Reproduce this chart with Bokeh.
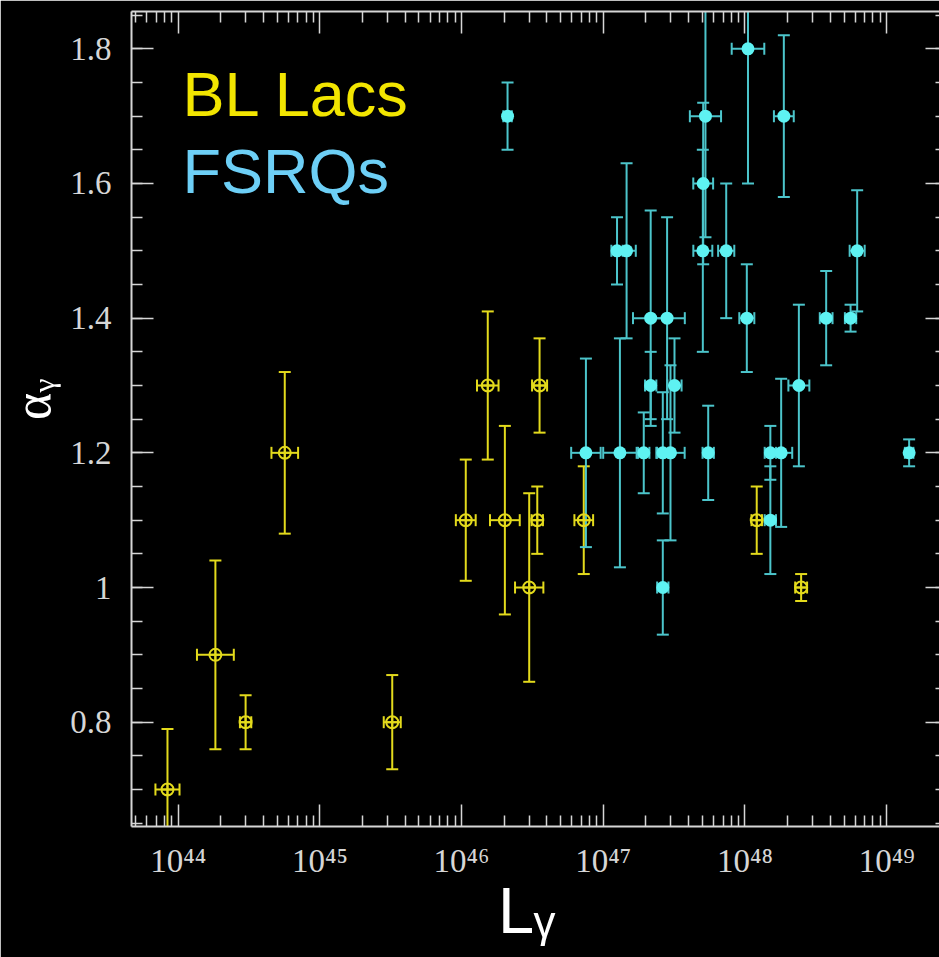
import math
from bokeh.plotting import figure
from bokeh.models import Range1d, LogAxis, LinearAxis, FixedTicker, Label, ColumnDataSource
from bokeh.embed import file_html
from bokeh.resources import INLINE

# ---------------- data ----------------
# BL Lacs: gamma-ray luminosity, spectral index, errors (alpha, dex in L)
bl_L = [8.4e43, 1.83e44, 2.99e44, 5.65e44, 3.24e45, 1.07e46, 1.53e46,
        2.02e46, 3.0e46, 3.42e46, 3.55e46, 7.28e46, 1.21e48, 2.49e48]
bl_alpha = [0.70, 0.90, 0.80, 1.20, 0.80, 1.10, 1.30,
            1.10, 1.00, 1.10, 1.30, 1.10, 1.10, 1.00]
bl_alpha_err = [0.09, 0.14, 0.04, 0.12, 0.07, 0.09, 0.11,
                0.14, 0.14, 0.05, 0.07, 0.08, 0.05, 0.02]
bl_logL_err = [0.085, 0.13, 0.04, 0.094, 0.06, 0.07, 0.076,
               0.105, 0.10, 0.04, 0.053, 0.066, 0.037, 0.042]

# FSRQs
fs_L = [2.11e46, 7.54e46, 1.31e47, 1.93e47, 2.63e47, 2.98e47, 2.63e47,
        1.25e47, 1.46e47, 2.16e47, 2.82e47, 2.16e47, 3.18e47, 5.26e47,
        5.07e47, 5.04e47, 5.50e47, 7.37e47, 1.03e48, 1.05e48, 1.51e48,
        1.51e48, 1.80e48, 1.88e48, 2.40e48, 3.74e48, 5.56e48, 6.19e48, 1.44e49]
fs_alpha = [1.70, 1.20, 1.20, 1.20, 1.20, 1.20, 1.00,
            1.50, 1.50, 1.40, 1.40, 1.30, 1.30, 1.70,
            1.60, 1.50, 1.20, 1.50, 1.40, 1.80, 1.20,
            1.10, 1.20, 1.70, 1.30, 1.40, 1.40, 1.50, 1.20]
fs_alpha_err = [0.05, 0.14, 0.17, 0.06, 0.09, 0.13, 0.07,
                0.05, 0.13, 0.16, 0.15, 0.05, 0.07, 0.18,
                0.12, 0.15, 0.07, 0.10, 0.08, 0.20, 0.04,
                0.08, 0.11, 0.12, 0.12, 0.07, 0.02, 0.09, 0.02]
fs_logL_err = [0.03, 0.104, 0.118, 0.04, 0.04, 0.10, 0.04,
               0.04, 0.065, 0.125, 0.125, 0.04, 0.05, 0.11,
               0.07, 0.067, 0.04, 0.057, 0.053, 0.115, 0.04,
               0.04, 0.078, 0.07, 0.074, 0.045, 0.04, 0.053, 0.03]

# axes
x_ticks = [1e44, 1e45, 1e46, 1e47, 1e48, 1e49]
x_tick_labels = ["10⁴⁴", "10⁴⁵", "10⁴⁶", "10⁴⁷", "10⁴⁸", "10⁴⁹"]
y_ticks = [0.8, 1.0, 1.2, 1.4, 1.6, 1.8]
y_tick_labels = ["0.8", "1", "1.2", "1.4", "1.6", "1.8"]
x_title = "Lᵧ\u00a0"
y_title = "\u00a0\u00a0\u00a0αᵧ"
series_names = ["BL Lacs", "FSRQs"]

# ---------------- styling ----------------
BG = "#000000"
AXIS_COLOR = "#d6d6d6"
BL_COLOR = "#e3da1c"
BL_TEXT = "#f2e500"
FS_COLOR = "#5ef2f2"
FS_BAR = "#4cc5cb"
FS_TEXT = "#6dcff6"


def err_source(L, a, aerr, lerr):
    f = [10 ** e for e in lerr]
    return ColumnDataSource(dict(
        L=L, a=a,
        alo=[v - e for v, e in zip(a, aerr)],
        ahi=[v + e for v, e in zip(a, aerr)],
        Llo=[v / k for v, k in zip(L, f)],
        Lhi=[v * k for v, k in zip(L, f)],
    ))


p = figure(width=939, height=957, x_axis_type="log",
           x_range=Range1d(10 ** 43.6704, 10 ** 49.3727),
           y_range=Range1d(0.6451, 1.8554),
           output_backend="svg", toolbar_location=None,
           background_fill_color=BG, border_fill_color=BG,
           min_border_left=131, min_border_right=0,
           min_border_top=11, min_border_bottom=131)
p.outline_line_color = None
p.grid.visible = False

top_axis = LogAxis()
p.add_layout(top_axis, "above")
right_axis = LinearAxis()
p.add_layout(right_axis, "right")


def style_axis(ax):
    ax.axis_line_color = AXIS_COLOR
    ax.axis_line_width = 2
    ax.major_tick_line_color = AXIS_COLOR
    ax.minor_tick_line_color = AXIS_COLOR
    ax.major_tick_line_width = 1.5
    ax.minor_tick_line_width = 1.5
    ax.major_tick_in = 22
    ax.major_tick_out = 0
    ax.minor_tick_in = 11
    ax.minor_tick_out = 0


x_minor = [m * t / 10 for t in [1e44] + x_ticks for m in range(2, 10)]
y_minor = [round(0.60 + 0.05 * i, 2) for i in range(0, 27)]

for ax in p.xaxis:
    style_axis(ax)
    ax.ticker = FixedTicker(ticks=x_ticks, minor_ticks=x_minor)
    ax.major_label_overrides = dict(zip(x_ticks, x_tick_labels))
    ax.major_label_text_font = "Liberation Serif"
    ax.major_label_text_font_size = "33px"
    ax.major_label_text_color = AXIS_COLOR
    ax.major_label_standoff = 16

bottom_axis = p.below[0]
bottom_axis.axis_label = x_title
bottom_axis.axis_label_text_font = "Liberation Sans"
bottom_axis.axis_label_text_font_size = "65px"
bottom_axis.axis_label_text_font_style = "normal"
bottom_axis.axis_label_text_color = "#ffffff"
bottom_axis.axis_label_standoff = -8

top_axis.major_label_overrides = {t: "" for t in x_ticks}
top_axis.major_label_text_font_size = "0px"
top_axis.major_label_standoff = 0

for ax in p.yaxis:
    style_axis(ax)
    ax.ticker = FixedTicker(ticks=y_ticks, minor_ticks=y_minor)

yax = p.left[0]
yax.major_label_overrides = dict(zip(y_ticks, y_tick_labels))
yax.major_label_text_font = "Liberation Serif"
yax.major_label_text_font_size = "33px"
yax.major_label_text_color = AXIS_COLOR
yax.major_label_standoff = 20
yax.axis_label = y_title
yax.axis_label_text_font = "Liberation Serif"
yax.axis_label_text_font_size = "52px"
yax.axis_label_text_font_style = "normal"
yax.axis_label_text_color = "#ffffff"
yax.axis_label_standoff = 6

# right axis: its line lies beyond the picture, only the inner ends of its ticks show
right_axis.axis_line_color = None
right_axis.major_tick_in = 14
right_axis.minor_tick_in = 4
right_axis.major_label_overrides = {t: "" for t in y_ticks}
right_axis.major_label_text_font_size = "0px"
right_axis.major_label_standoff = 0

# ---------------- error bars + markers ----------------
bl_src = err_source(bl_L, bl_alpha, bl_alpha_err, bl_logL_err)
fs_src = err_source(fs_L, fs_alpha, fs_alpha_err, fs_logL_err)

for src, bar in [(bl_src, BL_COLOR), (fs_src, FS_BAR)]:
    p.segment(x0="L", y0="alo", x1="L", y1="ahi", source=src, line_color=bar, line_width=2)
    p.segment(x0="Llo", y0="a", x1="Lhi", y1="a", source=src, line_color=bar, line_width=2)
    p.scatter(x="L", y="alo", source=src, marker="dash", size=12, line_color=bar, line_width=2)
    p.scatter(x="L", y="ahi", source=src, marker="dash", size=12, line_color=bar, line_width=2)
    p.scatter(x="Llo", y="a", source=src, marker="dash", angle=math.pi / 2, size=12,
              line_color=bar, line_width=2)
    p.scatter(x="Lhi", y="a", source=src, marker="dash", angle=math.pi / 2, size=12,
              line_color=bar, line_width=2)

p.scatter(x="L", y="a", source=bl_src, marker="circle_cross", size=12,
          fill_color=None, line_color=BL_COLOR, line_width=2)
p.scatter(x="L", y="a", source=fs_src, marker="circle", size=13,
          fill_color=FS_COLOR, line_color=None)

# coloured series names inside the frame
p.add_layout(Label(x=51, y=733, x_units="screen", y_units="screen", text=series_names[0],
                   text_font="Liberation Sans", text_font_size="63px", text_color=BL_TEXT,
                   text_baseline="middle", text_align="left"))
p.add_layout(Label(x=51, y=656, x_units="screen", y_units="screen", text=series_names[1],
                   text_font="Liberation Sans", text_font_size="63px", text_color=FS_TEXT,
                   text_baseline="middle", text_align="left"))

open("out.html", "w").write(file_html(p, INLINE))
